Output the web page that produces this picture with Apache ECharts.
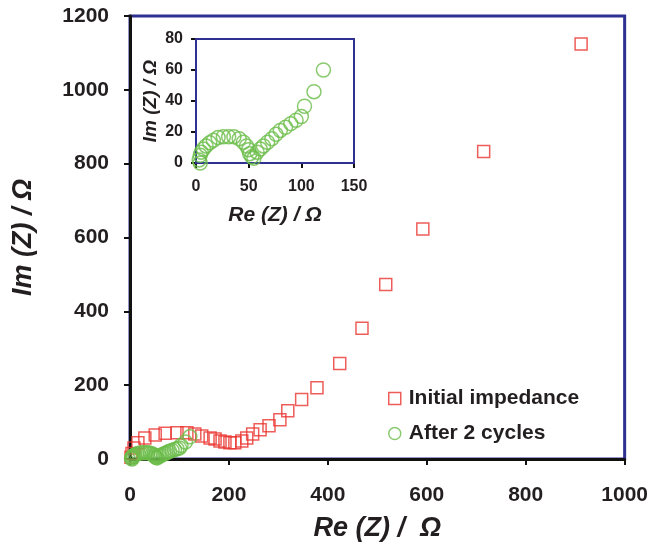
<!DOCTYPE html>
<html>
<head>
<meta charset="utf-8">
<script src="https://cdn.jsdelivr.net/npm/echarts@6/dist/echarts.min.js"></script>
<style>html,body{margin:0;padding:0;background:#fff}#c{width:651px;height:549px}</style>
</head>
<body>
<div id="c"></div>
<script>
// Initial impedance (red squares)
var redRe = [2, 4, 8, 16, 30, 51, 71, 95, 115, 131, 145, 162, 172, 182, 192, 202, 212, 226, 236, 248, 263, 281, 303, 319, 347, 378, 424, 469, 517, 592, 715, 912];
var redIm = [5, 15, 30, 44, 57, 65, 70, 71, 71, 68, 62, 57, 54, 49, 46, 44, 44, 49, 57, 68, 79, 90, 106, 131, 161, 193, 259, 354, 473, 623, 833, 1124];
// After 2 cycles (green circles)
var greenRe = [4, 3, 4, 5, 7, 9.5, 13, 16.5, 21, 26, 31, 36, 41, 45, 48, 50, 51, 53, 55, 58, 61, 64, 68, 72, 76, 80, 85, 90, 95, 100, 103, 112, 121];
var greenIm = [0, 2, 5, 7, 9, 11, 13, 14.6, 16.4, 17, 17, 17, 15.7, 13.4, 11, 8.6, 6, 4, 3, 7, 9, 11, 13.4, 15.7, 18.5, 21, 23, 25.4, 27.6, 30, 36.6, 46, 60];
var seriesNames = ['Initial impedance', 'After 2 cycles'];
var mainXTicks = [0, 1000, 200];
var mainYTicks = [0, 1200, 200];
var insetXTicks = [0, 150, 50];
var insetYTicks = [0, 80, 20];

function pairs(xs, ys) { return xs.map(function (x, i) { return [x, ys[i]]; }); }

var RED = '#ea3530', GREEN = '#6cbd4a', BLUE = '#2e3192', TXT = '#231f20';
var FONT = '"Liberation Sans", Arial, sans-serif';

function axisCommon(fs, margin, tickLen, lw) {
  return {
    axisLine: { show: true, onZero: false, lineStyle: { color: '#111', width: lw } },
    axisTick: { show: true, inside: false, length: tickLen, lineStyle: { color: '#111', width: 2 } },
    axisLabel: { margin: margin, fontSize: fs, fontWeight: 'bold', color: TXT, fontFamily: FONT,
      formatter: function (v) { return String(v); } },
    splitLine: { show: false }
  };
}

var chart = echarts.init(document.getElementById('c'), null, { renderer: 'canvas' });
var xa0 = Object.assign({ type: 'value', gridIndex: 0, min: mainXTicks[0], max: mainXTicks[1], interval: mainXTicks[2],
  name: 'Re (Z) /  Ω', nameLocation: 'middle', nameGap: 56,
  nameTextStyle: { fontSize: 27, fontWeight: 'bold', fontStyle: 'italic', color: TXT, fontFamily: FONT } },
  axisCommon(21, 26, 6, 3));
var ya0 = Object.assign({ type: 'value', gridIndex: 0, min: mainYTicks[0], max: mainYTicks[1], interval: mainYTicks[2],
  name: 'Im (Z) / Ω', nameLocation: 'middle', nameGap: 93, nameRotate: 90,
  nameTextStyle: { fontSize: 27, fontWeight: 'bold', fontStyle: 'italic', color: TXT, fontFamily: FONT } },
  axisCommon(21, 21, 6, 3));
var xa1 = Object.assign({ type: 'value', gridIndex: 1, min: insetXTicks[0], max: insetXTicks[1], interval: insetXTicks[2],
  name: 'Re (Z) / Ω', nameLocation: 'middle', nameGap: 42,
  nameTextStyle: { fontSize: 21, fontWeight: 'bold', fontStyle: 'italic', color: TXT, fontFamily: FONT } },
  axisCommon(16, 16, 5, 2));
var ya1 = Object.assign({ type: 'value', gridIndex: 1, min: insetYTicks[0], max: insetYTicks[1], interval: insetYTicks[2],
  name: 'Im (Z) / Ω', nameLocation: 'middle', nameGap: 36, nameRotate: 90,
  nameTextStyle: { fontSize: 19, fontWeight: 'bold', fontStyle: 'italic', color: TXT, fontFamily: FONT } },
  axisCommon(16, 13, 5, 2));

chart.setOption({
  animation: false,
  backgroundColor: '#fff',
  grid: [
    { left: 130, top: 16, width: 495, height: 443, show: true, borderColor: BLUE, borderWidth: 3, backgroundColor: 'transparent' },
    { left: 196, top: 39, width: 158, height: 124, show: true, borderColor: BLUE, borderWidth: 2, backgroundColor: '#fff', z: 5 }
  ],
  xAxis: [xa0, xa1],
  yAxis: [ya0, ya1],
  legend: {
    orient: 'vertical', left: 383, top: 383, itemWidth: 12, itemHeight: 12, itemGap: 14,
    textStyle: { fontSize: 21, fontWeight: 'bold', color: TXT, fontFamily: FONT, padding: [0, 0, 0, 3] },
    data: [
      { name: seriesNames[0], icon: 'rect', itemStyle: { color: 'transparent', borderColor: RED, borderWidth: 1.5 } },
      { name: seriesNames[1], icon: 'circle', itemStyle: { color: 'transparent', borderColor: GREEN, borderWidth: 1.5 } }
    ]
  },
  series: [
    { name: seriesNames[0], type: 'scatter', xAxisIndex: 0, yAxisIndex: 0, symbol: 'rect', symbolSize: 12, clip: false,
      itemStyle: { color: 'rgba(0,0,0,0)', borderColor: RED, borderWidth: 1.5 }, data: pairs(redRe, redIm) },
    { name: seriesNames[1], type: 'scatter', xAxisIndex: 0, yAxisIndex: 0, symbol: 'circle', symbolSize: 14, clip: false,
      itemStyle: { color: 'rgba(0,0,0,0)', borderColor: GREEN, borderWidth: 1.5 }, data: pairs(greenRe, greenIm) },
    { name: seriesNames[1], type: 'scatter', xAxisIndex: 1, yAxisIndex: 1, symbol: 'circle', symbolSize: 14, clip: false, z: 6,
      itemStyle: { color: 'rgba(0,0,0,0)', borderColor: GREEN, borderWidth: 1.5 }, data: pairs(greenRe, greenIm) }
  ]
});
</script>
</body>
</html>
